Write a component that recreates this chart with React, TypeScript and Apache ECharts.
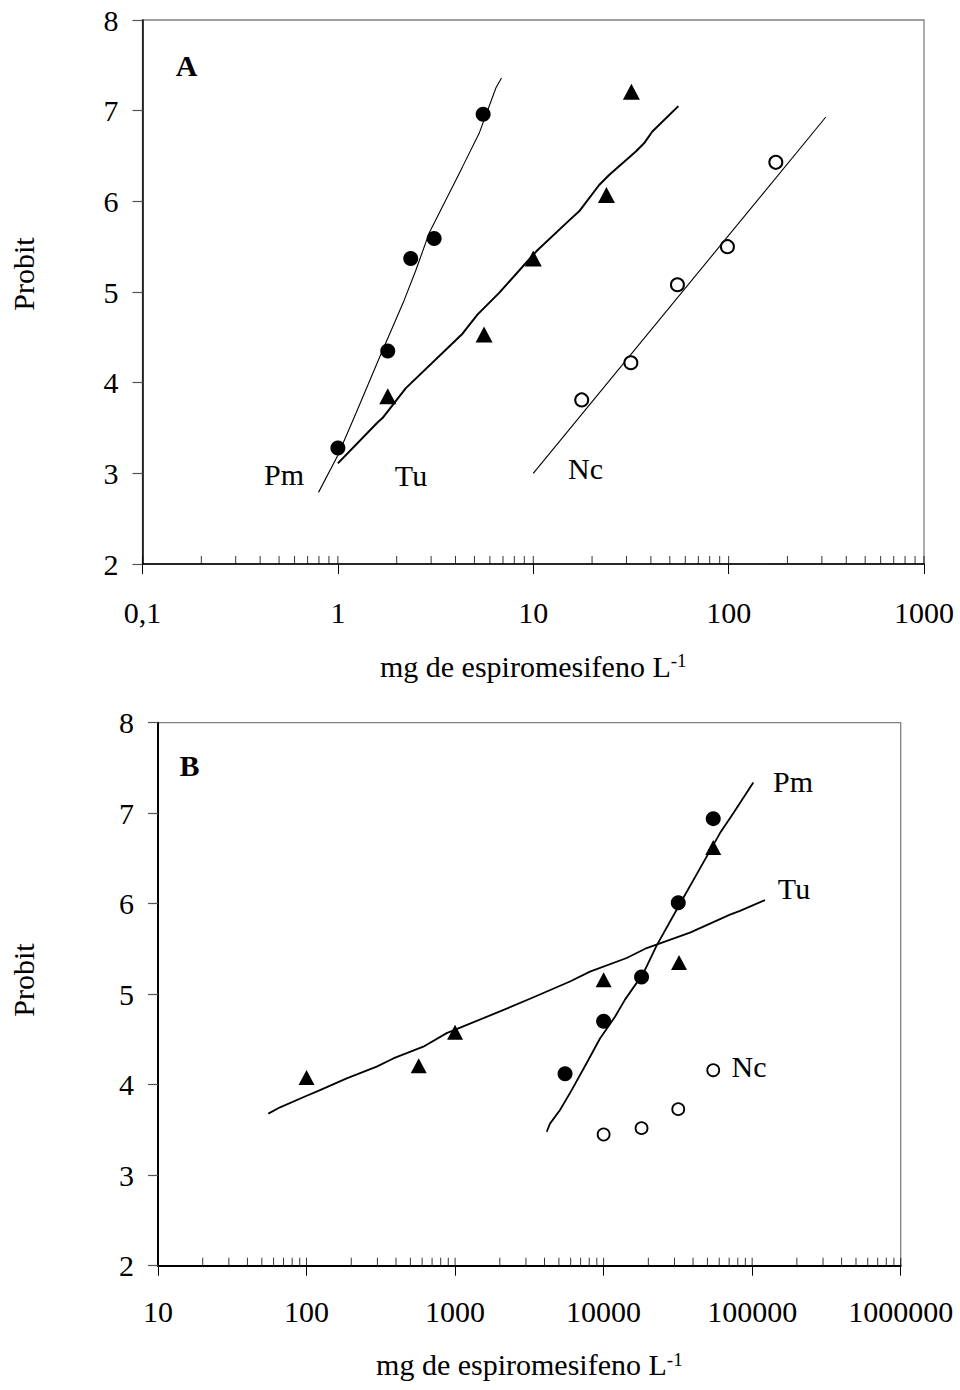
import React, { useEffect, useRef } from "react";
import * as echarts from "echarts";

const FONT = "'Liberation Serif', 'Times New Roman', Times, serif";

// ---------- Panel A (x: mg L-1, log scale 0.1–1000) ----------
const pmDoseA = [1.0, 1.8, 2.36, 3.11, 5.54];
const pmProbitA = [3.28, 4.35, 5.37, 5.59, 6.96];
const tuDoseA = [1.8, 5.6, 10, 23.7, 31.8];
const tuProbitA = [3.85, 4.53, 5.37, 6.07, 7.21];
const ncDoseA = [17.7, 31.6, 54.7, 98.6, 174.4];
const ncProbitA = [3.81, 4.22, 5.08, 5.5, 6.43];

const pmFitDoseA = [0.796, 1.0, 1.236, 1.627, 2.185, 2.507, 2.932, 4.343, 5.285, 6.437, 6.876];
const pmFitProbitA = [2.79, 3.2, 3.66, 4.27, 4.91, 5.24, 5.65, 6.38, 6.75, 7.25, 7.36];
const tuFitDoseA = [1.0, 1.595, 1.692, 2.228, 4.343, 5.18, 6.69, 9.17, 10.5, 15.27, 17.18, 21.74, 24.45, 33.5, 36.9, 40.7, 55.3];
const tuFitProbitA = [3.11, 3.56, 3.61, 3.94, 4.54, 4.75, 4.99, 5.32, 5.46, 5.79, 5.89, 6.18, 6.29, 6.55, 6.64, 6.77, 7.05];
const ncFitDoseA = [10, 314.5];
const ncFitProbitA = [3.0, 6.93];

// ---------- Panel B (x: mg L-1, log scale 10–1000000) ----------
const pmDoseB = [5500, 10000, 18000, 31800, 54700];
const pmProbitB = [4.12, 4.7, 5.19, 6.01, 6.94];
const tuDoseB = [100, 569, 1000, 10000, 32200, 54700];
const tuProbitB = [4.08, 4.21, 4.58, 5.16, 5.35, 6.62];
const ncDoseB = [10000, 18000, 31800, 54700];
const ncProbitB = [3.45, 3.52, 3.73, 4.16];

const tuFitDoseB = [55.3, 66.3, 97.6, 123.2, 186.4, 296.7, 383.8, 611, 878, 2006, 3194, 5938, 8094, 14300, 19500, 38150, 44550, 70940, 82830, 122000];
const tuFitProbitB = [3.68, 3.75, 3.87, 3.94, 4.07, 4.2, 4.29, 4.42, 4.57, 4.81, 4.95, 5.14, 5.25, 5.4, 5.51, 5.68, 5.73, 5.88, 5.92, 6.04];
const pmFitDoseB = [4139, 4356, 5087, 6095, 7691, 9454, 11930, 13930, 18500, 22780, 32680, 44550, 60760, 74650, 101800];
const pmFitProbitB = [3.48, 3.57, 3.72, 3.94, 4.24, 4.51, 4.75, 4.94, 5.23, 5.54, 6.0, 6.39, 6.78, 7.0, 7.34];

// ---------- Axes ----------
const Y_MIN = 2;
const Y_MAX = 8;
const Y_STEP = 1;
const X_MIN_A = 0.1;
const X_MAX_A = 1000;
const X_MIN_B = 10;
const X_MAX_B = 1000000;
const tickMultipliers = [1, 2, 3, 4, 5, 6, 7, 8, 9];
const decadesA = [0.1, 1, 10, 100];
const decadesB = [10, 100, 1000, 10000, 100000];
const xTitle = "mg de espiromesifeno L{sup|-1}";
const yTitle = "Probit";

const zip = (xs: number[], ys: number[]) => xs.map((x, i) => [x, ys[i]]);

function innerTicks(decades: number[], max: number) {
  const out: number[][] = [];
  decades.forEach((d) =>
    tickMultipliers.forEach((m) => out.push([Number((d * m).toPrecision(6)), Y_MIN]))
  );
  out.push([max, Y_MIN]);
  return out;
}

const fmtLog = (v: number) => String(Number(Number(v).toPrecision(6))).replace(".", ",");

const labelStyle = { fontFamily: FONT, fontSize: 30, color: "#000" };

function xAxisOf(grid: number, min: number, max: number, margin: number, gap: number, lw: number) {
  return {
    gridIndex: grid,
    type: "log",
    logBase: 10,
    min,
    max,
    axisLine: { show: true, lineStyle: { color: "#000", width: lw } },
    axisTick: { show: true, length: 10, lineStyle: { color: "#000", width: 1 } },
    axisLabel: { ...labelStyle, margin, formatter: fmtLog },
    splitLine: { show: false },
    minorTick: { show: false },
    name: xTitle,
    nameLocation: "middle",
    nameGap: gap,
    nameTextStyle: {
      fontFamily: FONT,
      fontSize: 30,
      color: "#000",
      rich: {
        sup: { fontFamily: FONT, fontSize: 19, color: "#000", verticalAlign: "top" },
      },
    },
  };
}

function yAxisOf(grid: number, lw: number) {
  return {
    gridIndex: grid,
    type: "value",
    min: Y_MIN,
    max: Y_MAX,
    interval: Y_STEP,
    axisLine: { show: true, lineStyle: { color: "#000", width: lw } },
    axisTick: { show: true, length: 10, lineStyle: { color: "#555", width: 1.2 } },
    axisLabel: { ...labelStyle, margin: 24 },
    splitLine: { show: false },
  };
}

function lineSeries(idx: number, xs: number[], ys: number[], width: number) {
  return {
    type: "line",
    xAxisIndex: idx,
    yAxisIndex: idx,
    data: zip(xs, ys),
    showSymbol: false,
    symbol: "none",
    smooth: false,
    lineStyle: { color: "#000", width },
    silent: true,
    z: 3,
  };
}

function scatterSeries(idx: number, xs: number[], ys: number[], symbol: string, size: any, open = false, bw = 2) {
  return {
    type: "scatter",
    xAxisIndex: idx,
    yAxisIndex: idx,
    data: zip(xs, ys),
    symbol,
    symbolSize: size,
    itemStyle: open
      ? { color: "#fff", borderColor: "#000", borderWidth: bw, opacity: 1 }
      : { color: "#000", opacity: 1 },
    silent: true,
    z: 5,
  };
}

function tickSeries(idx: number, data: number[][]) {
  return {
    type: "scatter",
    xAxisIndex: idx,
    yAxisIndex: idx,
    data,
    symbol: "rect",
    symbolSize: [1, 8],
    symbolOffset: [0, -4],
    itemStyle: { color: "#000" },
    silent: true,
    z: 2,
  };
}

function txt(text: string, x: number, y: number, extra: any = {}, rotation = 0) {
  return {
    type: "text",
    x,
    y,
    rotation,
    silent: true,
    style: {
      text,
      fontFamily: FONT,
      fontSize: 30,
      fill: "#000",
      align: "center",
      verticalAlign: "middle",
      ...extra,
    },
  };
}

export default function App() {
  const ref = useRef<HTMLDivElement>(null);

  useEffect(() => {
    if (!ref.current) return;
    const chart = echarts.init(ref.current, null, { renderer: "svg" });
    const option: any = {
      animation: false,
      backgroundColor: "#fff",
      grid: [
        {
          left: 142.5,
          top: 20,
          width: 781.5,
          height: 544,
          show: true,
          borderColor: "#808080",
          borderWidth: 1.3,
          backgroundColor: "transparent",
        },
        {
          left: 158,
          top: 722.7,
          width: 742.7,
          height: 543,
          show: true,
          borderColor: "#808080",
          borderWidth: 1.3,
          backgroundColor: "transparent",
        },
      ],
      xAxis: [
        xAxisOf(0, X_MIN_A, X_MAX_A, 33, 87, 1.5),
        xAxisOf(1, X_MIN_B, X_MAX_B, 31, 84, 2),
      ],
      yAxis: [yAxisOf(0, 1.5), yAxisOf(1, 2)],
      series: [
        tickSeries(0, innerTicks(decadesA, X_MAX_A)),
        tickSeries(1, innerTicks(decadesB, X_MAX_B)),
        lineSeries(0, pmFitDoseA, pmFitProbitA, 1.1),
        lineSeries(0, tuFitDoseA, tuFitProbitA, 2),
        lineSeries(0, ncFitDoseA, ncFitProbitA, 1.1),
        scatterSeries(0, pmDoseA, pmProbitA, "circle", 15),
        scatterSeries(0, tuDoseA, tuProbitA, "triangle", [17, 16]),
        scatterSeries(0, ncDoseA, ncProbitA, "circle", 13, true, 2),
        lineSeries(1, tuFitDoseB, tuFitProbitB, 1.8),
        lineSeries(1, pmFitDoseB, pmFitProbitB, 1.8),
        scatterSeries(1, pmDoseB, pmProbitB, "circle", 15),
        scatterSeries(1, tuDoseB, tuProbitB, "triangle", [16, 15]),
        scatterSeries(1, ncDoseB, ncProbitB, "circle", 12, true, 1.8),
      ],
      graphic: [
        txt(yTitle, 23, 274, {}, Math.PI / 2),
        txt(yTitle, 23, 980, {}, Math.PI / 2),
        txt("A", 186.7, 65.5, { fontWeight: "bold" }),
        txt("B", 189.5, 765, { fontWeight: "bold" }),
        txt("Pm", 284, 474),
        txt("Tu", 411, 475),
        txt("Nc", 585.5, 468.5),
        txt("Pm", 793, 781.7),
        txt("Tu", 794, 888.8),
        txt("Nc", 749, 1066),
      ],
    };
    chart.setOption(option);
    return () => chart.dispose();
  }, []);

  return (
    <div
      ref={ref}
      style={{ position: "absolute", left: 0, top: 0, width: 960, height: 1390, background: "#fff" }}
    />
  );
}
